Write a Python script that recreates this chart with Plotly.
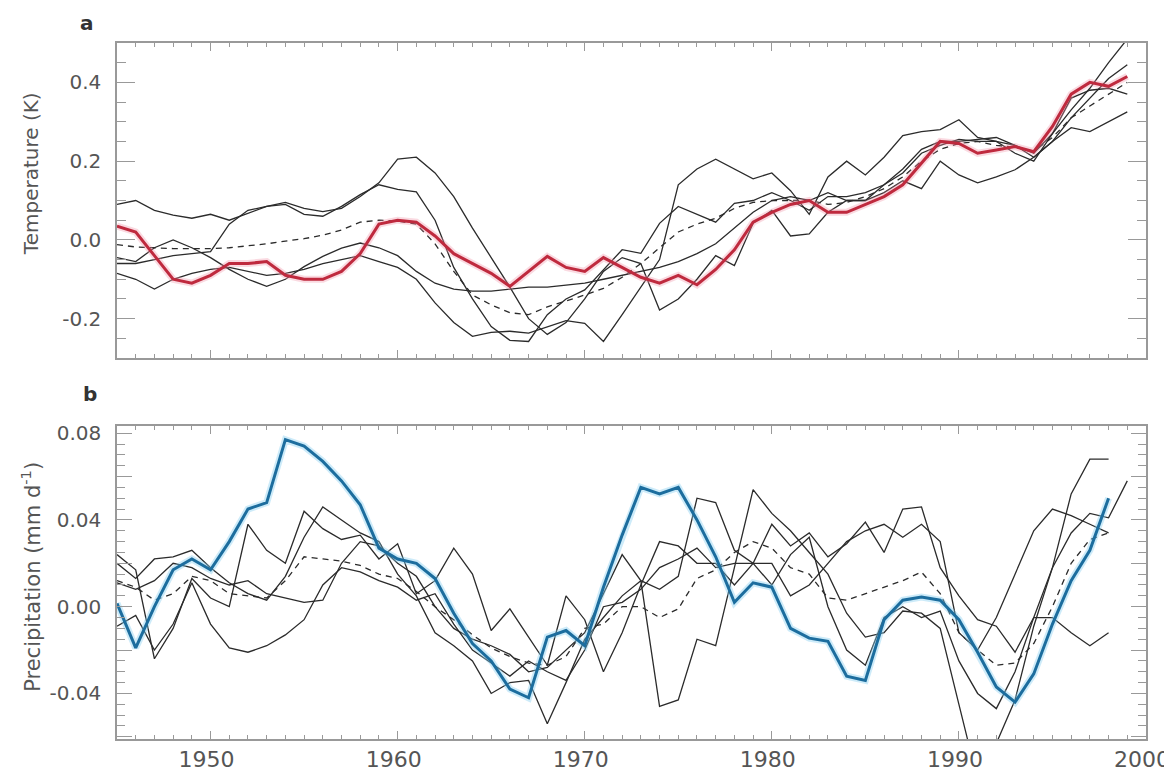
import plotly.graph_objects as go

years = list(range(1945, 2000))

# ---------------- Panel a: temperature (K) ----------------
temp_obs = [0.035, 0.02, -0.04, -0.10, -0.11, -0.09, -0.06, -0.06, -0.055, -0.09,
            -0.10, -0.10, -0.08, -0.035, 0.04, 0.05, 0.045, 0.01, -0.035, -0.06,
            -0.085, -0.118, -0.08, -0.042, -0.07, -0.08, -0.045, -0.07, -0.095, -0.11,
            -0.09, -0.114, -0.075, -0.025, 0.045, 0.07, 0.09, 0.10, 0.07, 0.07,
            0.09, 0.11, 0.14, 0.195, 0.25, 0.245, 0.22, 0.228, 0.237, 0.224,
            0.288, 0.37, 0.40, 0.39, 0.415]
temp_mean = [-0.012, -0.018, -0.02, -0.022, -0.022, -0.022, -0.02, -0.015, -0.01, -0.003,
             0.003, 0.012, 0.025, 0.045, 0.05, 0.048, 0.04, -0.01, -0.08, -0.14,
             -0.165, -0.185, -0.19, -0.17, -0.155, -0.14, -0.123, -0.095, -0.06, -0.02,
             0.02, 0.04, 0.055, 0.08, 0.095, 0.10, 0.10, 0.10, 0.09, 0.095,
             0.11, 0.13, 0.16, 0.20, 0.23, 0.245, 0.25, 0.24, 0.235, 0.225,
             0.26, 0.31, 0.34, 0.37, 0.40]
temp_run1 = [0.09, 0.10, 0.075, 0.063, 0.055, 0.065, 0.05, 0.068, 0.085, 0.09,
             0.065, 0.06, 0.085, 0.115, 0.14, 0.128, 0.122, 0.05, -0.07, -0.15,
             -0.22, -0.255, -0.258, -0.19, -0.15, -0.127, -0.076, -0.025, -0.034, 0.042,
             0.085, 0.065, 0.045, 0.093, 0.10, 0.12, 0.10, 0.075, 0.11, 0.11,
             0.12, 0.14, 0.18, 0.23, 0.25, 0.25, 0.255, 0.26, 0.24, 0.22,
             0.27, 0.36, 0.38, 0.385, 0.37]
temp_run2 = [-0.06, -0.06, -0.05, -0.04, -0.035, -0.03, 0.04, 0.075, 0.085, 0.095,
             0.08, 0.072, 0.08, 0.11, 0.145, 0.205, 0.21, 0.17, 0.11, 0.03,
             -0.045, -0.12, -0.20, -0.24, -0.21, -0.15, -0.08, -0.045, -0.06, -0.178,
             -0.15, -0.10, -0.04, -0.065, 0.042, 0.075, 0.01, 0.015, 0.07, 0.10,
             0.10, 0.12, 0.15, 0.13, 0.20, 0.165, 0.145, 0.16, 0.178, 0.21,
             0.25, 0.285, 0.275, 0.30, 0.325]
temp_run3 = [-0.045, -0.055, -0.02, 0.0, -0.02, -0.045, -0.075, -0.10, -0.118, -0.10,
             -0.068, -0.042, -0.021, -0.008, -0.02, -0.04, -0.08, -0.11, -0.125, -0.13,
             -0.13, -0.125, -0.12, -0.12, -0.115, -0.11, -0.10, -0.09, -0.08, -0.07,
             -0.055, -0.035, -0.01, 0.03, 0.07, 0.10, 0.11, 0.10, 0.12, 0.10,
             0.10, 0.14, 0.17, 0.22, 0.24, 0.255, 0.25, 0.25, 0.24, 0.21,
             0.25, 0.31, 0.36, 0.41, 0.445]
temp_run4 = [-0.085, -0.10, -0.125, -0.10, -0.085, -0.075, -0.07, -0.08, -0.09, -0.085,
             -0.075, -0.06, -0.05, -0.04, -0.055, -0.07, -0.10, -0.16, -0.21, -0.245,
             -0.235, -0.232, -0.237, -0.22, -0.205, -0.212, -0.258, -0.19, -0.12, -0.05,
             0.14, 0.18, 0.205, 0.18, 0.155, 0.17, 0.125, 0.065, 0.16, 0.20,
             0.165, 0.21, 0.265, 0.275, 0.28, 0.305, 0.26, 0.25, 0.22, 0.20,
             0.27, 0.33, 0.385, 0.45, 0.51]

# ---------------- Panel b: precipitation (mm/day) ----------------
prec_obs = [0.0015, -0.019, 0.0, 0.017, 0.022, 0.017, 0.03, 0.045, 0.048, 0.077,
            0.074, 0.067, 0.058, 0.047, 0.027, 0.022, 0.02, 0.013, -0.003, -0.017,
            -0.025, -0.038, -0.042, -0.014, -0.011, -0.018, 0.009, 0.033, 0.055, 0.052,
            0.055, 0.04, 0.023, 0.002, 0.011, 0.009, -0.01, -0.0145, -0.016, -0.032,
            -0.034, -0.006, 0.003, 0.0045, 0.003, -0.006, -0.021, -0.037, -0.044, -0.031,
            -0.008, 0.012, 0.026, 0.05, None]
prec_mean = [0.012, 0.009, 0.003, 0.006, 0.014, 0.012, 0.006, 0.005, 0.004, 0.012,
             0.023, 0.022, 0.021, 0.019, 0.015, 0.013, 0.007, 0.0, -0.006, -0.013,
             -0.019, -0.023, -0.026, -0.027, -0.023, -0.01, -0.008, 0.0, 0.0, -0.005,
             -0.001, 0.013, 0.017, 0.025, 0.03, 0.027, 0.018, 0.015, 0.004, 0.003,
             0.006, 0.009, 0.012, 0.016, 0.006, -0.012, -0.02, -0.027, -0.026, -0.017,
             0.0, 0.02, 0.031, 0.034, None]
prec_run1 = [0.024, 0.017, -0.024, -0.01, 0.013, 0.004, 0.0, 0.038, 0.026, 0.02,
             0.044, 0.036, 0.031, 0.033, 0.022, 0.029, 0.006, 0.012, 0.027, 0.015,
             -0.011, -0.001, -0.014, -0.027, 0.005, -0.006, -0.03, -0.012, 0.01, 0.03,
             0.028, 0.02, 0.02, 0.01, 0.02, 0.038, 0.028, 0.034, 0.023, 0.029,
             0.039, 0.025, 0.045, 0.046, 0.018, 0.005, -0.006, -0.009, -0.021, -0.005,
             0.018, 0.052, 0.068, 0.068, None]
prec_run2 = [0.02, 0.013, 0.022, 0.023, 0.026, 0.018, 0.011, 0.006, 0.003, 0.014,
             0.032, 0.046, 0.04, 0.034, 0.03, 0.015, 0.005, -0.012, -0.018, -0.025,
             -0.04, -0.035, -0.034, -0.054, -0.035, -0.015, -0.005, 0.005, 0.012, -0.046,
             -0.043, -0.015, -0.018, 0.018, 0.054, 0.043, 0.035, 0.025, 0.015, -0.003,
             -0.014, -0.012, -0.002, -0.003, -0.01, -0.045, -0.08, -0.063, -0.043, -0.009,
             0.018, 0.034, 0.043, 0.041, 0.058]
prec_run3 = [-0.009, -0.004, -0.02, -0.008, 0.011, -0.008, -0.019, -0.021, -0.018, -0.013,
             -0.006, 0.01, 0.018, 0.016, 0.012, 0.009, 0.003, 0.006, -0.008, -0.02,
             -0.026, -0.032, -0.025, -0.03, -0.034, -0.02, 0.0, 0.002, 0.008, 0.018,
             0.022, 0.027, 0.018, 0.02, 0.02, 0.01, 0.024, 0.032, 0.0, -0.02,
             -0.027, -0.005, 0.0, -0.005, -0.002, -0.025, -0.04, -0.047, -0.03, -0.005,
             -0.005, -0.012, -0.018, -0.012, None]
prec_run4 = [0.011, 0.008, 0.012, 0.02, 0.018, 0.013, 0.01, 0.012, 0.006, 0.004,
             0.002, 0.003, 0.02, 0.03, 0.028, 0.02, 0.014, 0.0, -0.01, -0.015,
             -0.018, -0.022, -0.03, -0.028, -0.02, -0.012, 0.006, 0.024, 0.012, 0.008,
             0.014, 0.05, 0.048, 0.026, 0.02, 0.02, 0.005, 0.01, 0.02, 0.03,
             0.035, 0.038, 0.032, 0.038, 0.03, -0.012, -0.02, -0.005, 0.015, 0.035,
             0.045, 0.042, 0.038, 0.034, None]

x_ticks = [1950, 1960, 1970, 1980, 1990, 2000]
temp_ticks = [-0.2, 0.0, 0.2, 0.4]
temp_ticktext = ["-0.2", "0.0", "0.2", "0.4"]
prec_ticks = [-0.04, 0.0, 0.04, 0.08]
prec_ticktext = ["-0.04", "0.00", "0.04", "0.08"]
prec_midticks = [-0.06, -0.02, 0.02, 0.06]

BLACK = "#2b2b2b"
RED = "#bf2a3e"
BLUE = "#1c6d9e"
AXC = "#999999"
TXT = "#555555"
FONT = "DejaVu Sans"

fig = go.Figure()

def add_runs(runs, xa, ya):
    for r in runs:
        fig.add_trace(go.Scatter(x=years, y=r, mode="lines", xaxis=xa, yaxis=ya,
                                 line=dict(color=BLACK, width=1.3), showlegend=False,
                                 connectgaps=False))

add_runs([temp_run1, temp_run2, temp_run3, temp_run4], "x", "y")
fig.add_trace(go.Scatter(x=years, y=temp_mean, mode="lines", xaxis="x", yaxis="y",
                         line=dict(color=BLACK, width=1.3, dash="6px,5px"), showlegend=False))
fig.add_trace(go.Scatter(x=years, y=temp_obs, mode="lines", xaxis="x", yaxis="y",
                         line=dict(color="rgba(240,150,170,0.35)", width=7), showlegend=False))
fig.add_trace(go.Scatter(x=years, y=temp_obs, mode="lines", xaxis="x", yaxis="y",
                         line=dict(color=RED, width=3), showlegend=False))

add_runs([prec_run1, prec_run2, prec_run3, prec_run4], "x2", "y2")
fig.add_trace(go.Scatter(x=years, y=prec_mean, mode="lines", xaxis="x2", yaxis="y2",
                         line=dict(color=BLACK, width=1.3, dash="6px,5px"), showlegend=False))
fig.add_trace(go.Scatter(x=years, y=prec_obs, mode="lines", xaxis="x2", yaxis="y2",
                         line=dict(color="rgba(130,205,240,0.4)", width=7), showlegend=False))
fig.add_trace(go.Scatter(x=years, y=prec_obs, mode="lines", xaxis="x2", yaxis="y2",
                         line=dict(color=BLUE, width=3), showlegend=False))

common_x = dict(range=[1945, 2000], tickmode="array", tickvals=x_ticks,
                ticks="inside", ticklen=8, tickwidth=1.2, tickcolor=AXC,
                minor=dict(dtick=1, tick0=1945, ticks="inside", ticklen=4,
                           tickcolor=AXC, tickwidth=1),
                showline=True, linecolor=AXC, linewidth=1.5, mirror="ticks",
                showgrid=False, zeroline=False, automargin=False,
                ticklabelshift=-4, ticklabeloverflow="allow",
                tickfont=dict(family=FONT, size=22, color=TXT))

PB_RANGE = [-0.061, 0.0833]

# the page body adds an 8 px offset, so the figure is 8 px smaller and margins shifted
fig.update_layout(
    width=1164, height=764,
    margin=dict(l=109, r=26, t=35, b=33, autoexpand=False),
    paper_bgcolor="white", plot_bgcolor="white",
    xaxis=dict(**common_x, anchor="y", showticklabels=False),
    xaxis2=dict(**common_x, anchor="y2", showticklabels=True),
    yaxis=dict(domain=[0.5474, 1.0], range=[-0.3, 0.5], tickmode="array",
               tickvals=temp_ticks, ticktext=temp_ticktext,
               ticks="inside", ticklen=18, tickwidth=1.2, tickcolor=AXC,
               minor=dict(dtick=0.05, tick0=0, ticks="inside", ticklen=9,
                          tickcolor=AXC, tickwidth=1),
               showline=True, linecolor=AXC, linewidth=1.5, mirror="ticks",
               showgrid=False, zeroline=False, ticklabelstandoff=10, automargin=False,
               tickfont=dict(family=FONT, size=20, color=TXT), anchor="x"),
    yaxis2=dict(domain=[0.0, 0.4497], range=PB_RANGE, tickmode="array",
                tickvals=prec_ticks, ticktext=prec_ticktext,
                ticks="inside", ticklen=15, tickwidth=1.2, tickcolor=AXC,
                minor=dict(dtick=0.005, tick0=0, ticks="inside", ticklen=8,
                           tickcolor=AXC, tickwidth=1),
                showline=True, linecolor=AXC, linewidth=1.5, mirror="ticks",
                showgrid=False, zeroline=False, ticklabelstandoff=10, automargin=False,
                tickfont=dict(family=FONT, size=20, color=TXT), anchor="x2"),
    yaxis3=dict(domain=[0.0, 0.4497], range=PB_RANGE, overlaying="y2", anchor="x2",
                side="left", tickmode="array", tickvals=prec_midticks,
                showticklabels=False, ticks="inside", ticklen=15, tickwidth=1.2,
                tickcolor=AXC, showline=True, linecolor=AXC, linewidth=1.5,
                mirror="ticks", showgrid=False, zeroline=False, automargin=False),
    annotations=[
        dict(text="<b>a</b>", x=-0.029, y=1.0495, xref="paper", yref="paper",
             xanchor="center", yanchor="top", showarrow=False,
             font=dict(family=FONT, size=20, color="#333333")),
        dict(text="<b>b</b>", x=-0.026, y=0.4957, xref="paper", yref="paper",
             xanchor="center", yanchor="middle", showarrow=False,
             font=dict(family=FONT, size=20, color="#333333")),
        dict(text="Temperature (K)", x=-0.0836, y=0.813, xref="paper", yref="paper",
             xanchor="center", yanchor="middle", textangle=-90, showarrow=False,
             font=dict(family=FONT, size=20, color=TXT)),
        dict(text="Precipitation (mm d<sup>-1</sup>)", x=-0.0836, y=0.233,
             xref="paper", yref="paper", xanchor="center", yanchor="middle",
             textangle=-90, showarrow=False,
             font=dict(family=FONT, size=21, color=TXT)),
    ],
)

# empty trace so the overlay tick axis is drawn
fig.add_trace(go.Scatter(x=[None], y=[None], xaxis="x2", yaxis="y3",
                         mode="lines", showlegend=False, hoverinfo="skip"))

fig.write_html("out.html")
